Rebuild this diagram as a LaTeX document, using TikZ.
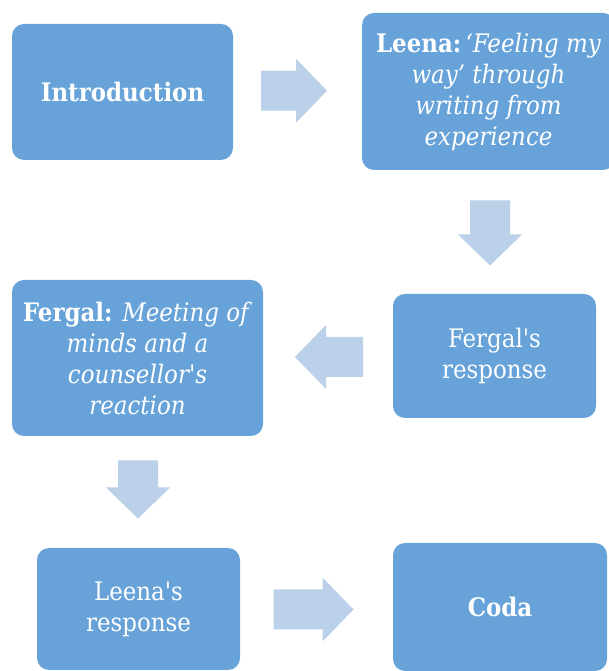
\documentclass[tikz,border=0pt]{standalone}
\usepackage{fontspec}
\setmainfont{DejaVu Serif Condensed}[Ligatures=TeXOff]
\usetikzlibrary{calc}
\definecolor{boxblue}{HTML}{67A3D9}
\definecolor{arrowblue}{HTML}{BBD0E9}
\tikzset{
  blk/.style={fill=boxblue, rounded corners=12pt, text=white, align=center,
    inner sep=0pt, font=\fontsize{25.5}{31}\selectfont},
  pics/barrow/.style={code={
    \fill[arrowblue] (-#1/2,-20) -- (#1/2-31,-20) -- (#1/2-31,-32) -- (#1/2,0)
      -- (#1/2-31,32) -- (#1/2-31,20) -- (-#1/2,20) -- cycle;}}
}
\begin{document}
\begin{tikzpicture}[x=1pt,y=1pt]
\useasboundingbox (0,0) rectangle (608,671);
\node[blk, minimum width=221pt, minimum height=136pt] (intro) at (122.5,579) {\textbf{Introduction}};
\node[blk, minimum width=253pt, minimum height=157pt] (leena) at (488.5,579.5)
  {\textbf{Leena:}\,\textit{‘Feeling my}\\\textit{way’ through}\\\textit{writing from}\\\textit{experience}};
\node[blk, minimum width=203pt, minimum height=124pt] (fergresp) at (494.5,315) {Fergal's\\response};
\node[blk, minimum width=251pt, minimum height=156pt] (fergal) at (137.5,313)
  {\textbf{Fergal:} \textit{Meeting of}\\\textit{minds and a}\\\textit{counsellor's}\\\textit{reaction}};
\node[blk, minimum width=203pt, minimum height=122pt] (leenaresp) at (138.5,62) {Leena's\\response};
\node[blk, minimum width=214pt, minimum height=128pt] (coda) at (500,64) {\textbf{Coda}};
\pic at ($(intro.east)!0.5!(leena.west)+(-3.5,1)$) {barrow=66};
\pic[rotate=-90] at ($(leena.south)!0.5!(fergresp.north)+(-1.5,-1)$) {barrow=65};
\pic[rotate=180] at ($(fergresp.west)!0.5!(fergal.east)+(1,0)$) {barrow=68};
\pic[rotate=-90] at ($(fergal.south)!0.5!(leenaresp.north)+(0,2.5)$) {barrow=58};
\pic at ($(leenaresp.east)!0.5!(coda.west)+(-3,-1.5)$) {barrow=80};
\end{tikzpicture}
\end{document}
